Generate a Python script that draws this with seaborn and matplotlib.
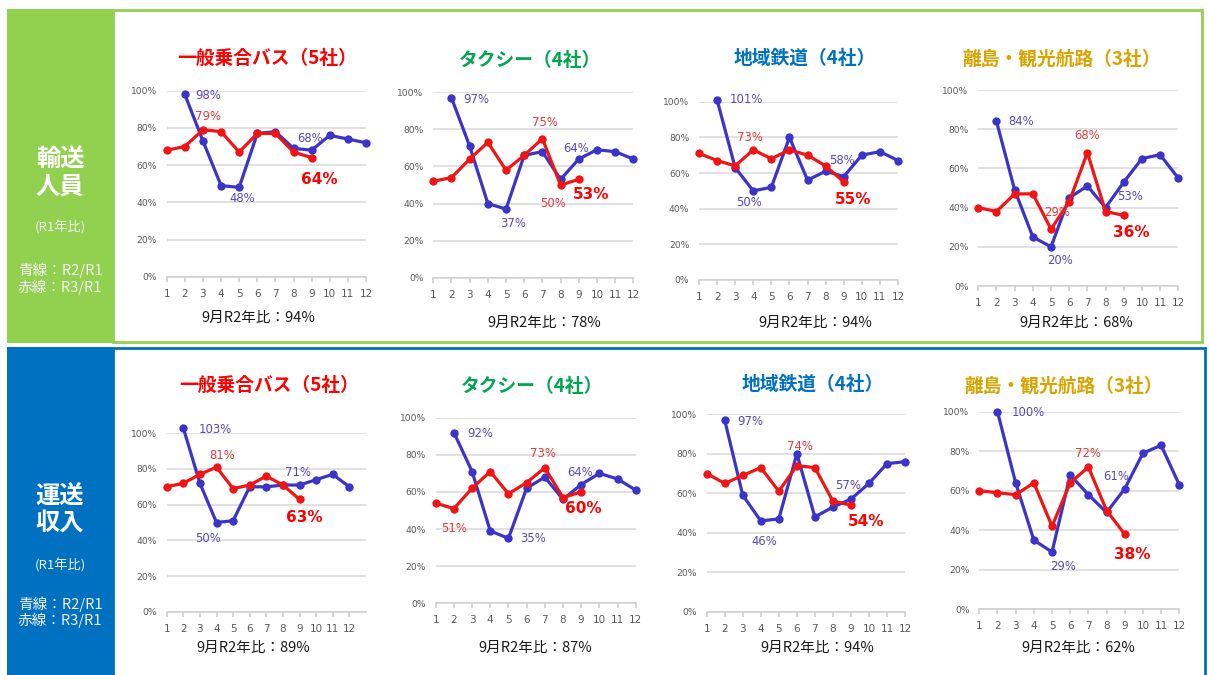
import numpy as np
import pandas as pd
import seaborn as sns
import matplotlib.pyplot as plt
from matplotlib.patches import Rectangle

sns.set_theme(style='white')
plt.rcParams['font.family'] = ['Noto Sans CJK JP', 'DejaVu Sans']

W, H = 1209, 675
months = list(range(1, 13))
nan = np.nan

# data (R1 = 100%), blue = R2/R1 from Feb, red = R3/R1 up to Sep
bus_people_r2 = [nan, 98, 73, 49, 48, 77, 78, 69, 68, 76, 74, 72]
bus_people_r3 = [68, 70, 79, 78, 67, 77, 77, 67, 64]
taxi_people_r2 = [nan, 97, 71, 40, 37, 66, 68, 53, 64, 69, 68, 64]
taxi_people_r3 = [52, 54, 64, 73, 58, 66, 75, 50, 53]
rail_people_r2 = [nan, 101, 63, 50, 52, 80, 56, 61, 58, 70, 72, 67]
rail_people_r3 = [71, 67, 64, 73, 68, 73, 70, 64, 55]
ship_people_r2 = [nan, 84, 49, 25, 20, 45, 51, 40, 53, 65, 67, 55]
ship_people_r3 = [40, 38, 47, 47, 29, 43, 68, 38, 36]

bus_revenue_r2 = [nan, 103, 72, 50, 51, 70, 70, 71, 71, 74, 77, 70]
bus_revenue_r3 = [70, 72, 77, 81, 69, 71, 76, 71, 63]
taxi_revenue_r2 = [nan, 92, 71, 39, 35, 62, 68, 56, 64, 70, 67, 61]
taxi_revenue_r3 = [54, 51, 62, 71, 59, 65, 73, 57, 60]
rail_revenue_r2 = [nan, 97, 59, 46, 47, 80, 48, 53, 57, 65, 75, 76]
rail_revenue_r3 = [70, 65, 69, 73, 61, 74, 73, 56, 54]
ship_revenue_r2 = [nan, 100, 64, 35, 29, 68, 58, 49, 61, 79, 83, 63]
ship_revenue_r3 = [60, 59, 58, 64, 42, 64, 72, 50, 38]

titles = ['一般乗合バス（5社）', 'タクシー（4社）', '地域鉄道（4社）', '離島・観光航路（3社）']
title_colors = ['#ff0000', '#00a650', '#0070c0', '#d9a400']
sept_ratio = [94, 78, 94, 68, 89, 87, 94, 62]

series = [
    (bus_people_r2, bus_people_r3), (taxi_people_r2, taxi_people_r3),
    (rail_people_r2, rail_people_r3), (ship_people_r2, ship_people_r3),
    (bus_revenue_r2, bus_revenue_r3), (taxi_revenue_r2, taxi_revenue_r3),
    (rail_revenue_r2, rail_revenue_r3), (ship_revenue_r2, ship_revenue_r3),
]

# layout in pixels: month1 x, month12 x, 0% y, 100% y, last month on axis
boxes = [
    (166.7, 366, 276.7, 90.7, 12), (433.3, 633.3, 277.7, 92.3, 12),
    (699, 898, 280, 101.7, 12), (978.3, 1178.3, 286, 90, 12),
    (166.7, 349.3, 611.7, 433.3, 13), (435.7, 635.7, 603.3, 417.7, 12),
    (706.7, 905, 611.7, 414.3, 12), (979.3, 1179.3, 609.3, 411.7, 12),
]
title_pos = [(267, 58), (530, 60), (805, 58), (1062, 59),
             (269, 385), (532, 386), (813, 384), (1064, 386)]
sub_pos = [(258, 318), (544, 323), (815, 323), (1076, 323),
           (253, 648), (535, 648), (817, 648), (1078, 648)]

# data labels: (series, month, dx px, dy px, ha, bold)
labels = [
    [(0, 2, 10, -1, 'left', 0), (1, 3, 5, 13, 'center', 0), (0, 5, 3, -11, 'center', 0),
     (0, 9, -2, 12, 'center', 0), (1, 9, 8, -22, 'center', 1)],
    [(0, 2, 12, -2, 'left', 0), (1, 7, 3, 16, 'center', 0), (0, 5, 7, -14, 'center', 0),
     (1, 8, -8, -18, 'center', 0), (0, 9, -3, 11, 'center', 0), (1, 9, 12, -15, 'center', 1)],
    [(0, 2, 13, 0, 'left', 0), (1, 4, -3, 12, 'center', 0), (0, 4, -4, -12, 'center', 0),
     (0, 9, -2, 16, 'center', 0), (1, 9, 9, -18, 'center', 1)],
    [(0, 2, 12, 0, 'left', 0), (1, 7, 0, 17, 'center', 0), (1, 5, 6, 17, 'center', 0),
     (0, 5, 9, -14, 'center', 0), (0, 9, 6, -14, 'center', 0), (1, 9, 8, -17, 'center', 1)],
    [(0, 2, 15, -2, 'left', 0), (1, 4, 6, 12, 'center', 0), (0, 4, -8, -16, 'center', 0),
     (0, 9, -2, 13, 'center', 0), (1, 9, 5, -18, 'center', 1)],
    [(0, 2, 13, -1, 'left', 0), (1, 2, 0, -20, 'center', 0), (0, 5, 12, 0, 'left', 0),
     (1, 7, -2, 14, 'center', 0), (0, 9, -1, 12, 'center', 0), (1, 9, 2, -17, 'center', 1)],
    [(0, 2, 13, -1, 'left', 0), (1, 6, 3, 19, 'center', 0), (0, 4, 4, -21, 'center', 0),
     (0, 9, -3, 14, 'center', 0), (1, 9, 15, -16, 'center', 1)],
    [(0, 2, 14, -1, 'left', 0), (1, 7, 0, 14, 'center', 0), (0, 5, 11, -15, 'center', 0),
     (0, 9, -9, 12, 'center', 0), (1, 9, 7, -20, 'center', 1)],
]

blue, red = '#3b34c8', '#f01414'
blue_txt, red_txt = '#5549bf', '#e33b3b'
num_font = 'DejaVu Sans'

fig = plt.figure(figsize=(W / 100, H / 100), dpi=100)


def rect(x0, y0, x1, y1, **kw):
    fig.patches.append(Rectangle((x0 / W, 1 - y1 / H), (x1 - x0) / W, (y1 - y0) / H,
                                 transform=fig.transFigure, figure=fig, zorder=-5, **kw))


# section frames
rect(113, 10, 1202, 342, facecolor='white', edgecolor='#92d050', linewidth=2)
rect(7, 9, 113, 343, facecolor='#92d050', edgecolor='none')
rect(113, 348, 1205, 676, facecolor='white', edgecolor='#0070c0', linewidth=2)
rect(7, 347, 113, 675, facecolor='#0070c0', edgecolor='none')

side = [('輸送', '人員', 160, 187, 227, 270, 287), ('運送', '収入', 497, 524, 566, 604, 620)]
for a, b, y1, y2, y3, y4, y5 in side:
    fig.text(60 / W, 1 - y1 / H, a, color='white', fontsize=17.5, fontweight='bold', ha='center', va='center')
    fig.text(60 / W, 1 - y2 / H, b, color='white', fontsize=17.5, fontweight='bold', ha='center', va='center')
    fig.text(60 / W, 1 - y3 / H, '(R1年比)', color='#f2f2f2', fontsize=9.5, ha='center', va='center')
    fig.text(60 / W, 1 - y4 / H, '青線：R2/R1', color='#f2f2f2', fontsize=10.5, ha='center', va='center')
    fig.text(60 / W, 1 - y5 / H, '赤線：R3/R1', color='#f2f2f2', fontsize=10.5, ha='center', va='center')

for i, (r2, r3) in enumerate(series):
    x1, x12, y0, y100, xmax = boxes[i]
    xr = x1 + (x12 - x1) * (xmax - 1) / 11
    ax = fig.add_axes([x1 / W, 1 - y0 / H, (xr - x1) / W, (y0 - y100) / H])
    ax.set_facecolor('none')

    df = pd.DataFrame({'month': months + months[:len(r3)],
                       'value': list(r2) + list(r3),
                       'series': ['R2/R1'] * 12 + ['R3/R1'] * len(r3)})
    sns.lineplot(data=df, x='month', y='value', hue='series',
                 palette={'R2/R1': blue, 'R3/R1': red}, marker='o', markersize=6,
                 markeredgewidth=0, linewidth=2.3, legend=False, ax=ax, zorder=3)
    for ln in ax.lines:
        ln.set_clip_on(False)

    ax.set_xlim(1, xmax)
    ax.set_ylim(0, 100)
    ax.set_xticks(months)
    ax.set_xticklabels([str(m) for m in months], fontfamily=num_font)
    ax.set_yticks([0, 20, 40, 60, 80, 100])
    ax.set_yticklabels([f'{v}%' for v in [0, 20, 40, 60, 80, 100]], fontfamily=num_font)
    ax.set_xlabel('')
    ax.set_ylabel('')
    ax.grid(axis='y', color='#d9d9d9', linewidth=1.1)
    ax.set_axisbelow(True)
    for s in ['top', 'right', 'left']:
        ax.spines[s].set_visible(False)
    ax.spines['bottom'].set_color('#d0d0d0')
    ax.spines['bottom'].set_linewidth(1.1)
    ax.tick_params(axis='x', length=3.5, color='#d0d0d0', pad=5, labelsize=7.5, labelcolor='#595959', bottom=True)
    ax.tick_params(axis='y', length=0, pad=7, labelsize=6.6, labelcolor='#595959')

    for s, m, dx, dy, ha, big in labels[i]:
        vals = r2 if s == 0 else r3
        v = vals[m - 1]
        if big:
            col, fs, fw = '#ff0000', 11, 'bold'
        else:
            col, fs, fw = (blue_txt if s == 0 else red_txt), 8.4, 'normal'
        ax.annotate(f'{v:.0f}%', xy=(m, v), xytext=(dx * 0.72, dy * 0.72),
                    textcoords='offset points', ha=ha, va='center', color=col,
                    fontsize=fs, fontweight=fw, fontfamily=num_font,
                    annotation_clip=False, zorder=5)

    tx, ty = title_pos[i]
    fig.text(tx / W, 1 - ty / H, titles[i % 4], color=title_colors[i % 4],
             fontsize=13.5, fontweight='bold', ha='center', va='center')
    sx, sy = sub_pos[i]
    fig.text(sx / W, 1 - sy / H, f'9月R2年比：{sept_ratio[i]}%', color='#1a1a1a',
             fontsize=10.5, ha='center', va='center')

fig.savefig('out.png', dpi=100)
